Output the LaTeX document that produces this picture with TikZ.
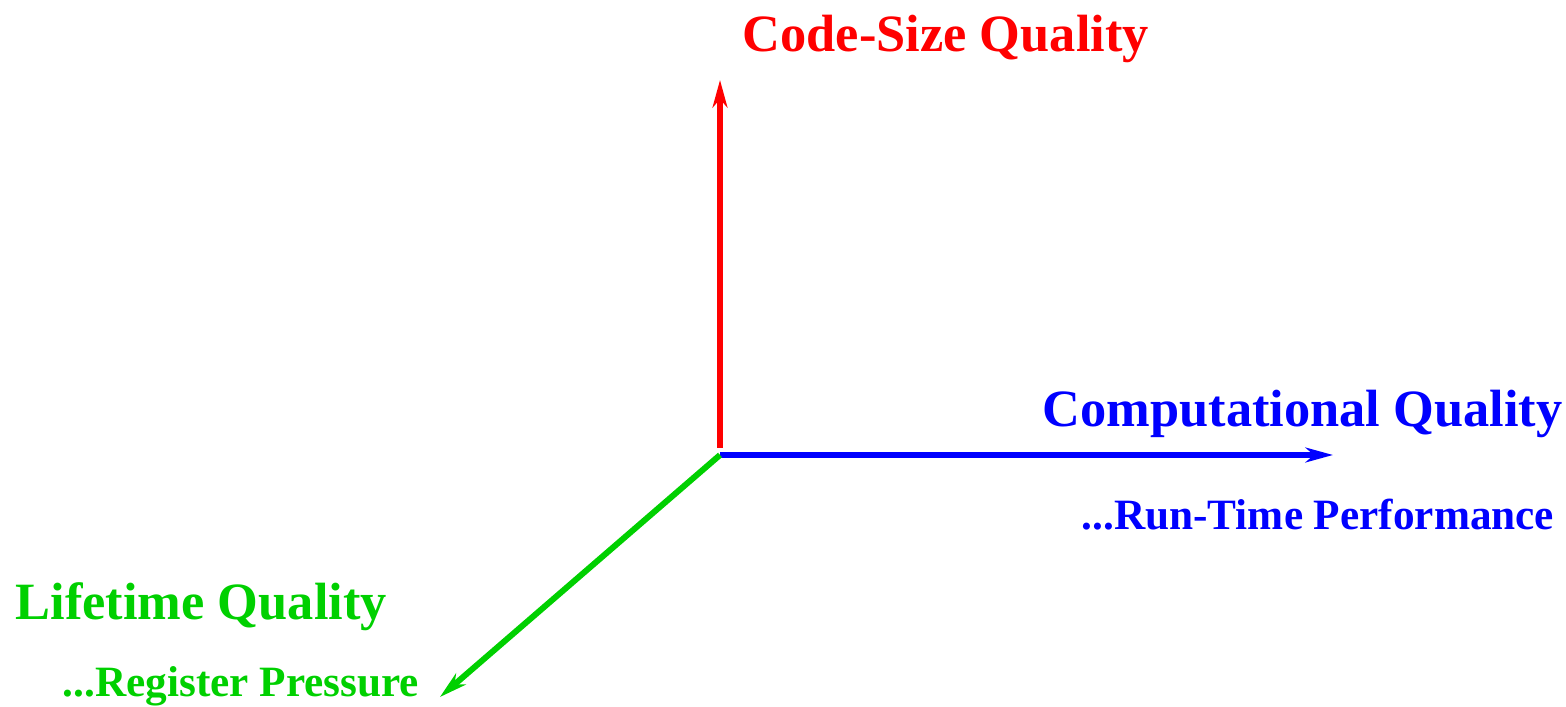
\documentclass[tikz,border=0pt]{standalone}
\usepackage{fontspec}
\setmainfont{Liberation Serif}
\usetikzlibrary{arrows.meta}
\definecolor{figgreen}{RGB}{0,208,0}
\tikzset{
  axis/.style={line width=1.7pt, -{Stealth[length=7.8pt, width=4.2pt, inset=2.4pt]}},
  bigtitle/.style={anchor=base west, inner sep=0pt, font=\fontsize{14.9}{18}\selectfont\bfseries},
  subtitle/.style={anchor=base west, inner sep=0pt, font=\fontsize{12.3}{15}\selectfont\bfseries}
}
\begin{document}
\begin{tikzpicture}[x=0.01cm, y=-0.01cm]
    \useasboundingbox (0, 0) rectangle (1566, 707);
    \begin{scope}
      \coordinate (origin) at (720, 455);
      \coordinate (redfoot) at (720, 448);
      \coordinate (codetip) at (720, 80);
      \coordinate (comptip) at (1333, 455);
      \coordinate (lifetip) at (440, 697);
      \draw[axis, red] (redfoot) -- (codetip);
      \draw[axis, blue] (origin) -- (comptip);
      \draw[axis, figgreen] (origin) -- (lifetip);

      \node[bigtitle, red] (codesize) at (742, 52) {Code-Size Quality};
      \node[bigtitle, blue] (computational) at (1042, 427) {Computational Quality};
      \node[subtitle, blue] (runtime) at (1081, 530) {...Run-Time Performance};
      \node[bigtitle, figgreen] (lifetime) at (15, 620) {Lifetime Quality};
      \node[subtitle, figgreen] (register) at (62, 697) {...Register Pressure};
    \end{scope}
  \end{tikzpicture}
\end{document}
